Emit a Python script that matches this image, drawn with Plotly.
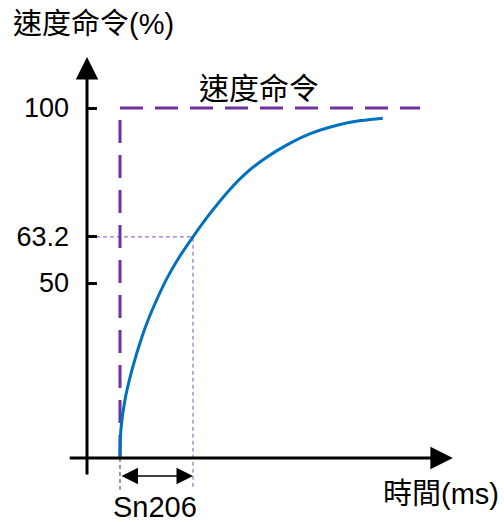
import plotly.graph_objects as go

# ---- data (time in units of the time constant Sn206) ----
curve_t = [0, 0.014, 0.068, 0.17, 0.3, 0.4, 0.52, 0.65, 0.8, 1.0, 1.25, 1.5, 1.75, 2.0, 2.3, 2.6, 3.0, 3.3, 3.6]
curve_v = [0, 8.5, 16.6, 25.6, 34.6, 40.2, 46.0, 51.6, 57.0, 63.2, 70.3, 76.6, 81.8, 85.8, 89.6, 92.6, 95.2, 96.4, 97.1]
cmd_t = [0, 0, 4.11]
cmd_v = [0, 100, 100]
tau = 1.0
tau_level = 63.2
tick_vals = [50, 63.2, 100]
tick_text = ["50", "63.2", "100"]

FONT = "Arial, Liberation Sans, Noto Sans CJK TC"
PURPLE = "#7030A0"
BLUE = "#0070C0"

fig = go.Figure()

# dotted guide lines at 63.2 %
fig.add_trace(go.Scatter(x=[-0.33, tau, tau], y=[tau_level, tau_level, -9.1], mode="lines",
                         line=dict(color="#9B6FC8", width=1.2, dash="4px,3px"), hoverinfo="skip"))
# gray dashed below origin
fig.add_trace(go.Scatter(x=[0, 0], y=[0, -9.1], mode="lines",
                         line=dict(color="#555555", width=1.2, dash="4px,3px"), hoverinfo="skip"))
# speed command step
fig.add_trace(go.Scatter(x=cmd_t, y=cmd_v, mode="lines",
                         line=dict(color=PURPLE, width=3, dash="23px,12px"), hoverinfo="skip"))
# response curve
fig.add_trace(go.Scatter(x=curve_t, y=curve_v, mode="lines", line_shape="spline",
                         line=dict(color=BLUE, width=3, smoothing=1.0), hoverinfo="skip"))

ann = []
# y axis with arrow
ann.append(dict(x=-0.452, y=114.6, ax=-0.452, ay=-5.14, xref="x", yref="y", axref="x", ayref="y",
                showarrow=True, arrowhead=2, arrowsize=1.5, arrowwidth=3, arrowcolor="black", text=""))
# x axis with arrow
ann.append(dict(x=4.56, y=0, ax=-0.71, ay=0, xref="x", yref="y", axref="x", ayref="y",
                showarrow=True, arrowhead=2, arrowsize=1.5, arrowwidth=3, arrowcolor="black", text=""))
# double arrow for Sn206
ann.append(dict(x=tau, y=-5.14, ax=0, ay=-5.14, xref="x", yref="y", axref="x", ayref="y",
                showarrow=True, arrowhead=2, startarrowhead=2, arrowside="end+start",
                arrowsize=2.2, startarrowsize=2.2, arrowwidth=1.5, arrowcolor="black", text=""))
# texts
ann.append(dict(x=11 / 504, y=1 - 24 / 522, xref="paper", yref="paper", xanchor="left", yanchor="middle",
                text="速度命令(%)", showarrow=False, font=dict(size=29, color="black", family=FONT)))
ann.append(dict(x=1.904, y=105.7, xref="x", yref="y", xanchor="center", yanchor="middle",
                text="速度命令", showarrow=False, font=dict(size=30, color="black", family=FONT)))
ann.append(dict(x=0.48, y=-14.0, xref="x", yref="y", xanchor="center", yanchor="middle",
                text="Sn206", showarrow=False, font=dict(size=29, color="black", family=FONT)))
ann.append(dict(x=501 / 504, y=1 - 494 / 522, xref="paper", yref="paper", xanchor="right", yanchor="middle",
                text="時間(ms)", showarrow=False, font=dict(size=29, color="black", family=FONT)))

fig.update_layout(
    width=504, height=522, autosize=False,
    margin=dict(l=0, r=0, t=0, b=0),
    paper_bgcolor="white", plot_bgcolor="white",
    showlegend=False,
    annotations=ann,
    xaxis=dict(range=[-120 / 73, 384 / 73], visible=False, fixedrange=True),
    yaxis=dict(range=[-64 / 3.5, 458 / 3.5], anchor="free", position=87 / 504,
               tickvals=tick_vals, ticktext=tick_text, ticks="inside", ticklen=9, tickwidth=2.5,
               tickcolor="black", showline=False, showgrid=False, zeroline=False,
               tickfont=dict(size=27, color="black", family=FONT), ticklabelstandoff=18,
               fixedrange=True),
)

fig.write_html("out.html", config={"displayModeBar": False},
               post_script="document.body.style.margin='0';document.body.style.overflow='hidden';")
